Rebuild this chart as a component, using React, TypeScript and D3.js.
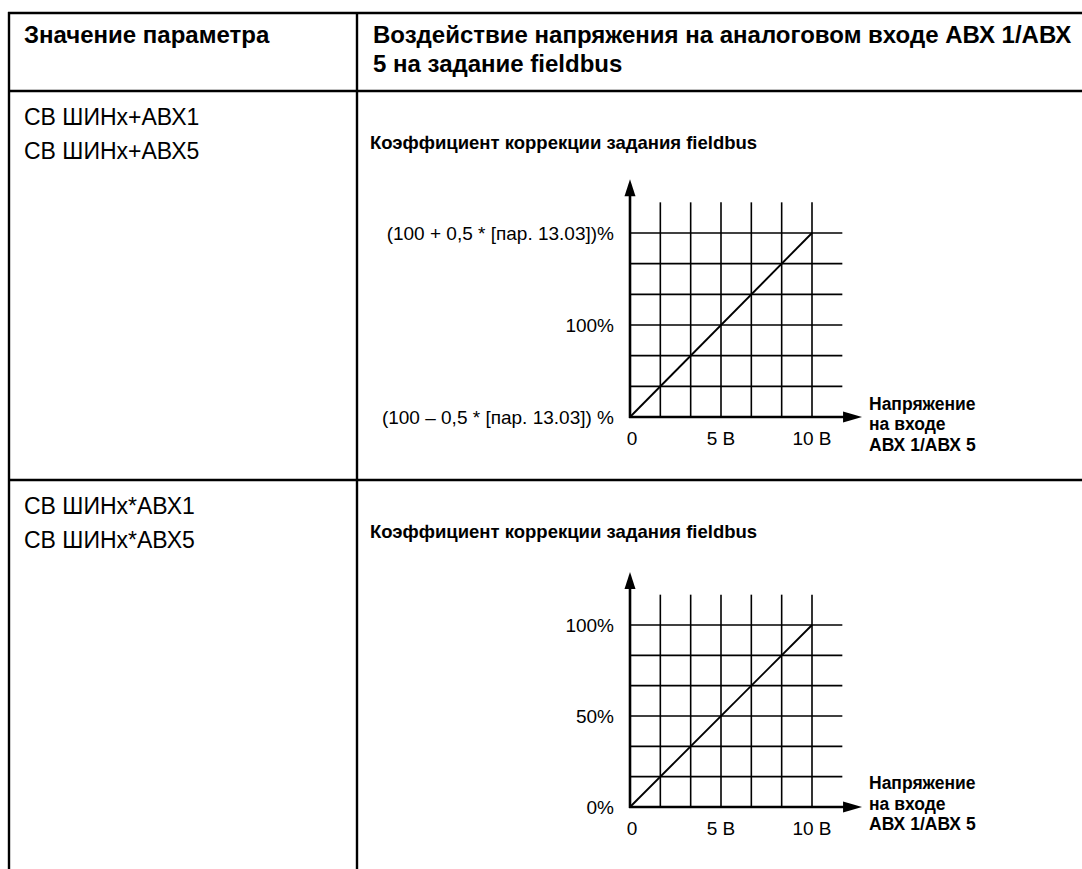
import React from "react";
import * as d3 from "d3";

// ---- data ----
const headerLeft = "Значение параметра";
const headerRight = ["Воздействие напряжения на аналоговом входе АВХ 1/АВХ", "5 на задание fieldbus"];
const row1Params = ["СВ ШИНх+АВХ1", "СВ ШИНх+АВХ5"];
const row2Params = ["СВ ШИНх*АВХ1", "СВ ШИНх*АВХ5"];
const chartTitle = "Коэффициент коррекции задания fieldbus";
const xAxisLabel = ["Напряжение", "на входе", "АВХ 1/АВХ 5"];
const xTickValues = [0, 5, 10];
const xTickLabels = ["0", "5 В", "10 В"];
const yTickValues = [0, 50, 100];
const chart1YLabels = ["(100 – 0,5 * [пар. 13.03]) %", "100%", "(100 + 0,5 * [пар. 13.03])%"];
const chart2YLabels = ["0%", "50%", "100%"];
const lineX = [0, 10];
const lineY = [0, 100];
const gridDivisions = 6;

const FONT = "'Liberation Sans', Arial, Helvetica, sans-serif";

function Chart({ originY, topY, yLabels, titleY, axisLabelOffset }: { originY: number; topY: number; yLabels: string[]; titleY: number; axisLabelOffset: number }) {
  const x = d3.scaleLinear().domain([0, 10]).range([630, 812]);
  const y = d3.scaleLinear().domain([0, 100]).range([originY, topY]);
  const stepX = 10 / gridDivisions;
  const stepY = 100 / gridDivisions;
  const gx = d3.range(1, gridDivisions + 1).map((i) => i * stepX);
  const gy = d3.range(1, gridDivisions + 1).map((i) => i * stepY);
  const xExt = 10 + stepX;
  const yExt = 100 + stepY;
  const line = d3.line<[number, number]>().x((d) => x(d[0])).y((d) => y(d[1]));
  const pts: [number, number][] = lineX.map((v, i) => [v, lineY[i]]);
  const arrowTopY = y(100 + stepY * 1.75);
  const arrowRightX = x(10 + stepX * 1.65);
  const x0 = x(0);
  const y0 = y(0);
  return (
    <g>
      <text x={370} y={titleY} fontFamily={FONT} fontWeight="bold" fontSize={18.5} fill="#000">
        {chartTitle}
      </text>
      {gx.map((v) => (
        <line key={"vx" + v} x1={x(v)} x2={x(v)} y1={y0} y2={y(yExt)} stroke="#000" strokeWidth={1.6} />
      ))}
      {gy.map((v) => (
        <line key={"hy" + v} x1={x0} x2={x(xExt)} y1={y(v)} y2={y(v)} stroke="#000" strokeWidth={1.6} />
      ))}
      <path d={line(pts) || ""} stroke="#000" strokeWidth={1.9} fill="none" />
      {/* axes */}
      <line x1={x0} x2={x0} y1={y0 + 1} y2={arrowTopY + 14} stroke="#000" strokeWidth={2.6} />
      <path d={`M${x0},${arrowTopY} L${x0 - 5.5},${arrowTopY + 17} L${x0 + 5.5},${arrowTopY + 17} Z`} fill="#000" />
      <line x1={x0 - 1} x2={arrowRightX - 14} y1={y0} y2={y0} stroke="#000" strokeWidth={2.6} />
      <path d={`M${arrowRightX},${y0} L${arrowRightX - 19},${y0 - 5.5} L${arrowRightX - 19},${y0 + 5.5} Z`} fill="#000" />
      {xTickValues.map((v, i) => (
        <text key={"xt" + v} x={x(v) + (i === 0 ? 2 : 0)} y={y0 + 28} textAnchor="middle" fontFamily={FONT} fontSize={19} fill="#000">
          {xTickLabels[i]}
        </text>
      ))}
      {yTickValues.map((v, i) => (
        <text key={"yt" + v} x={614} y={y(v) + 6.8} textAnchor="end" fontFamily={FONT} fontSize={19} fill="#000">
          {yLabels[i]}
        </text>
      ))}
      {xAxisLabel.map((s, i) => (
        <text key={"xl" + i} x={869} y={y0 + axisLabelOffset + (i - 1) * 20.5} fontFamily={FONT} fontWeight="bold" fontSize={17.5} fill="#000">
          {s}
        </text>
      ))}
    </g>
  );
}

export default function App() {
  const W = 1082;
  const H = 869;
  const top = 13;
  const headBottom = 91;
  const rowDiv = 480;
  const leftX = 9;
  const colX = 357;
  return (
    <svg width={W} height={H} style={{ position: "absolute", left: 0, top: 0, background: "#fff" }}>
      <rect x={0} y={0} width={W} height={H} fill="#fff" />
      {/* table */}
      <line x1={leftX - 1} x2={W + 2} y1={top} y2={top} stroke="#000" strokeWidth={2.4} />
      <line x1={leftX - 1} x2={W + 2} y1={headBottom} y2={headBottom} stroke="#000" strokeWidth={2.4} />
      <line x1={leftX - 1} x2={W + 2} y1={rowDiv} y2={rowDiv} stroke="#000" strokeWidth={2.4} />
      <line x1={leftX} x2={leftX} y1={top - 1} y2={H + 2} stroke="#000" strokeWidth={2.4} />
      <line x1={colX} x2={colX} y1={top - 1} y2={H + 2} stroke="#000" strokeWidth={2.4} />
      {/* header */}
      <text x={24} y={43} fontFamily={FONT} fontWeight="bold" fontSize={24} fill="#000">
        {headerLeft}
      </text>
      {headerRight.map((s, i) => (
        <text key={"hr" + i} x={373} y={43 + i * 28.5} fontFamily={FONT} fontWeight="bold" fontSize={24} fill="#000">
          {s}
        </text>
      ))}
      {row1Params.map((s, i) => (
        <text key={"r1" + i} x={24} y={125 + i * 34} fontFamily={FONT} fontSize={23} fill="#000">
          {s}
        </text>
      ))}
      {row2Params.map((s, i) => (
        <text key={"r2" + i} x={24} y={514 + i * 34} fontFamily={FONT} fontSize={23} fill="#000">
          {s}
        </text>
      ))}
      <Chart originY={417} topY={233} yLabels={chart1YLabels} titleY={148.5} axisLabelOffset={13} />
      <Chart originY={807} topY={625} yLabels={chart2YLabels} titleY={538} axisLabelOffset={2.5} />
    </svg>
  );
}
